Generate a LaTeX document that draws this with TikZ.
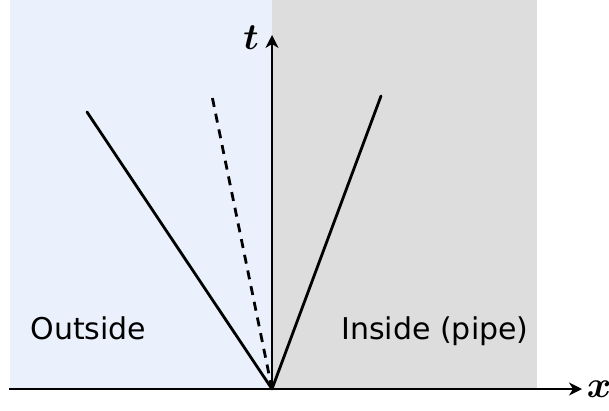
\documentclass[tikz,border=0pt]{standalone}
\usepackage{amsmath,bm,graphicx}
\usepackage{fontspec}
\setmainfont{DejaVu Sans}
\usetikzlibrary{arrows.meta}
\definecolor{outbg}{HTML}{EAF1FC}
\definecolor{inbg}{HTML}{DDDDDD}
\begin{document}
\begin{tikzpicture}[x=1pt,y=-1pt,
  axis/.style={line width=1.4pt,-{Stealth[length=13pt,width=13pt,inset=4pt]}},
  ray/.style={line width=2.8pt},
  dray/.style={line width=2.8pt,dash pattern=on 9pt off 7pt},
  region/.style={font=\fontsize{30}{34}\selectfont,anchor=base},
  axlabel/.style={font=\fontsize{12}{14}\selectfont,anchor=base,inner sep=0pt}]
\useasboundingbox (0,0) rectangle (609,410);
\fill[outbg] (10,0) rectangle (272,388);
\fill[inbg] (272,0) rectangle (537,388);
\coordinate (O) at (272,389);
\coordinate (xs) at (9,389);
\coordinate (xe) at (582,389);
\coordinate (te) at (272,35);
\coordinate (L) at (87,112);
\coordinate (D) at (212,96);
\coordinate (R) at (381,96);
\draw[axis] (xs) -- (xe);
\draw[axis] (O) -- (te);
\draw[ray,line cap=round] (O) -- (L);
\draw[ray,line cap=round] (O) -- (R);
\draw[dray] (O) -- (D);
\node[axlabel] (tl) at (251,49) {\scalebox{3.1}{$\bm{t}$}};
\node[axlabel] (xl) at (599,397) {\scalebox{3.1}{$\bm{x}$}};
\node[region] (out) at (88.5,339) {Outside};
\node[region] (in) at (435,339) {Inside (pipe)};
\end{tikzpicture}
\end{document}
